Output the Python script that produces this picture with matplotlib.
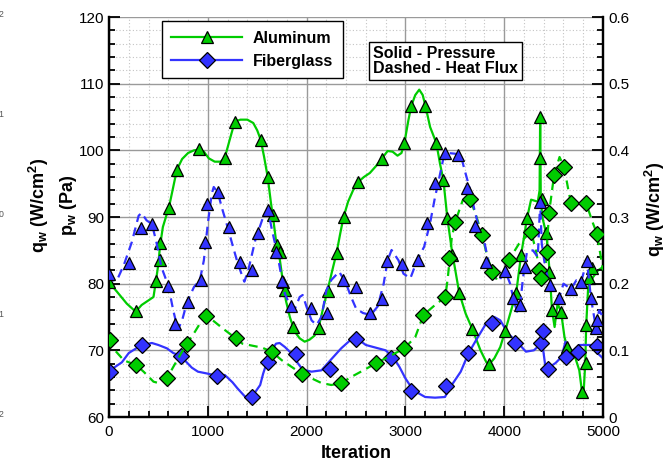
import matplotlib

matplotlib.use("Agg")
import matplotlib.pyplot as plt  # noqa: E402
from matplotlib.lines import Line2D  # noqa: E402
from matplotlib.ticker import MultipleLocator, LogLocator, NullLocator  # noqa: E402

plt.rcParams["font.family"] = ["Liberation Sans", "DejaVu Sans"]
plt.rcParams["mathtext.default"] = "regular"

GREEN = "#00cc00"
BLUE = "#3333ff"

# Aluminum wall pressure (Pa), solid green line + triangle markers
al_p_iter = [0, 80, 180, 270, 330, 400, 450, 475, 500, 515, 545, 580, 606, 650, 687, 740,
             800, 860, 909, 960, 1010, 1070, 1130, 1172, 1220, 1273, 1330, 1400, 1460, 1500,
             1535, 1570, 1606, 1640, 1657, 1690, 1730, 1760, 1790, 1830, 1880, 1930, 1980,
             2030, 2080, 2121, 2170, 2212, 2260, 2303, 2340, 2374, 2420, 2470, 2525, 2580,
             2640, 2700, 2758, 2820, 2870, 2920, 2960, 2990, 3030, 3060, 3100, 3140, 3175,
             3202, 3250, 3313, 3350, 3384, 3424, 3470, 3545, 3610, 3677, 3760, 3820, 3848,
             3900, 3960, 4010, 4070, 4121, 4171, 4232, 4272, 4340, 4358, 4364, 4370, 4385,
             4424, 4440, 4460, 4484, 4510, 4540, 4575, 4610, 4636, 4700, 4760, 4787, 4805,
             4820, 4830, 4850, 4900, 4950, 5000]
al_p_val = [80.2, 78.8, 77.0, 75.8, 76.8, 77.5, 78.0, 80.4, 83.0, 85.5, 88.5, 90.2, 91.4,
            94.5, 97.1, 98.7, 99.6, 100.0, 100.1, 99.8, 98.8, 98.3, 98.3, 98.9, 101.5, 104.3,
            104.6, 104.6, 104.1, 103.0, 101.6, 99.0, 96.0, 92.0, 90.3, 86.5, 83.5, 80.3, 77.5,
            75.0, 72.8, 71.8, 71.3, 71.6, 72.2, 73.4, 76.5, 79.0, 82.0, 84.6, 87.5, 90.0, 92.3,
            94.0, 95.3, 96.0, 96.6, 97.6, 98.7, 99.9, 99.8, 99.2, 99.6, 101.1, 104.5, 106.7,
            108.3, 109.1, 108.3, 106.7, 103.5, 101.1, 98.0, 95.6, 89.9, 85.0, 78.6, 75.5, 73.2,
            70.0, 68.2, 67.9, 68.8, 70.5, 72.9, 76.0, 78.6, 84.3, 89.9, 92.6, 92.3, 94.0, 105.0,
            93.0, 90.0, 87.6, 85.4, 81.7, 76.0, 73.5, 77.0, 75.8, 72.0, 70.5, 69.8, 67.0, 63.8,
            64.0, 68.0, 73.8, 79.5, 81.0, 82.0, 82.5]
al_p_mk_iter = [0, 273, 475, 515, 515, 606, 687, 909, 1172, 1273, 1535, 1606, 1657, 1697,
                1727, 1757, 1778, 1858, 2121, 2212, 2303, 2374, 2525, 2758, 2990, 3060, 3202,
                3313, 3384, 3424, 3475, 3545, 3677, 3848, 4010, 4121, 4171, 4232, 4364, 4364,
                4380, 4424, 4455, 4484, 4575, 4636, 4787, 4830, 4830, 4860, 4890]
al_p_mk_val = [80.3, 75.9, 80.4, 83.5, 86.1, 91.4, 97.1, 100.2, 98.9, 104.3, 101.6, 96.0,
               90.3, 85.8, 84.8, 80.3, 79.1, 73.5, 73.4, 78.9, 84.6, 90.0, 95.3, 98.7, 101.1,
               106.7, 106.7, 101.1, 95.6, 89.9, 84.3, 78.6, 73.2, 68.0, 72.9, 78.6, 84.3, 89.9,
               105.0, 98.9, 92.7, 87.6, 81.7, 76.1, 75.8, 70.5, 63.8, 68.1, 73.8, 80.9, 82.3]

# Aluminum heat flux (W/cm^2), dashed green line + diamond markers
al_q_iter = [0, 60, 150, 273, 350, 450, 500, 586, 650, 720, 788, 870, 940, 980, 1050, 1150,
             1283, 1350, 1450, 1550, 1646, 1750, 1850, 1949, 2050, 2150, 2250, 2353, 2450,
             2550, 2707, 2850, 2990, 3100, 3182, 3300, 3404, 3430, 3470, 3505, 3580, 3656,
             3720, 3777, 3830, 3878, 3930, 4000, 4050, 4150, 4272, 4320, 4373, 4420, 4454,
             4505, 4560, 4606, 4650, 4676, 4750, 4828, 4900, 4939, 5000]
al_q_val = [0.118, 0.100, 0.085, 0.078, 0.068, 0.053, 0.051, 0.058, 0.075, 0.093, 0.110,
            0.128, 0.145, 0.152, 0.145, 0.133, 0.118, 0.110, 0.107, 0.104, 0.098, 0.085,
            0.075, 0.065, 0.058, 0.051, 0.048, 0.051, 0.060, 0.068, 0.081, 0.092, 0.103,
            0.120, 0.153, 0.168, 0.180, 0.210, 0.270, 0.293, 0.325, 0.327, 0.300, 0.273,
            0.240, 0.218, 0.205, 0.220, 0.236, 0.260, 0.278, 0.250, 0.209, 0.230, 0.306,
            0.363, 0.390, 0.375, 0.340, 0.321, 0.320, 0.321, 0.290, 0.275, 0.220]
al_q_mk_iter = [10, 273, 586, 788, 980, 1283, 1646, 1949, 2353, 2707, 2990, 3182, 3404, 3444,
                3505, 3656, 3777, 3878, 4050, 4272, 4353, 4373, 4434, 4454, 4505, 4606, 4676,
                4828, 4939]
al_q_mk_val = [0.1155, 0.078, 0.0585, 0.1095, 0.1515, 0.1185, 0.0975, 0.0645, 0.051, 0.081,
               0.1035, 0.153, 0.180, 0.2385, 0.2925, 0.327, 0.273, 0.2175, 0.2355, 0.2775,
               0.2205, 0.2085, 0.2475, 0.306, 0.363, 0.375, 0.321, 0.321, 0.2745]

# Fiberglass wall pressure (Pa), solid blue line + diamond markers
fg_p_iter = [0, 60, 130, 200, 330, 434, 500, 586, 650, 720, 780, 838, 900, 1000, 1090, 1172,
             1250, 1300, 1380, 1450, 1530, 1560, 1600, 1640, 1690, 1727, 1780, 1850, 1900,
             1960, 2050, 2150, 2240, 2350, 2440, 2515, 2600, 2700, 2800, 2880, 2940, 3000,
             3080, 3200, 3300, 3400, 3460, 3560, 3640, 3730, 3820, 3900, 3960, 4040, 4140,
             4220, 4300, 4360, 4380, 4395, 4420, 4460, 4520, 4580, 4620, 4660, 4700, 4760,
             4830, 4880, 4950, 5000]
fg_p_val = [66.8, 67.5, 68.2, 69.6, 70.8, 71.1, 70.8, 70.3, 69.6, 69.2, 68.3, 67.4, 66.8,
            66.5, 66.2, 66.3, 65.2, 64.3, 63.0, 63.1, 64.8, 66.5, 68.3, 69.8, 71.0, 71.1, 70.5,
            69.5, 68.3, 67.1, 66.8, 67.0, 68.5, 70.3, 71.5, 71.7, 70.8, 70.4, 70.0, 68.9, 67.5,
            65.8, 64.0, 63.0, 62.9, 63.0, 64.6, 66.8, 69.6, 71.9, 74.1, 75.0, 74.5, 72.5, 71.1,
            69.8, 70.0, 70.8, 73.3, 70.0, 67.2, 67.5, 68.1, 69.0, 71.3, 69.8, 70.0, 70.8, 70.8,
            70.8, 69.5, 68.8]
fg_p_mk_iter = [10, 334, 727, 1090, 1444, 1606, 1889, 2232, 2495, 2858, 3060, 3414, 3636,
                3878, 4111, 4373, 4394, 4444, 4626, 4747, 4939]
fg_p_mk_val = [66.8, 70.8, 69.2, 66.2, 63.0, 68.3, 69.5, 67.2, 71.7, 68.9, 63.9, 64.7, 69.6,
               74.1, 71.1, 71.1, 72.9, 67.2, 69.0, 69.75, 70.7]

# Fiberglass heat flux (W/cm^2), dashed blue line + triangle markers
fg_q_iter = [0, 40, 80, 150, 230, 300, 330, 380, 434, 480, 530, 600, 650, 697, 740, 790,
             860, 920, 960, 1000, 1040, 1060, 1100, 1150, 1200, 1250, 1300, 1340, 1370, 1410,
             1480, 1560, 1610, 1650, 1700, 1740, 1780, 1840, 1880, 1930, 1960, 2000, 2050,
             2100, 2150, 2200, 2250, 2330, 2400, 2450, 2500, 2570, 2650, 2720, 2780, 2820,
             2860, 2930, 2980, 3050, 3120, 3190, 3250, 3300, 3330, 3380, 3430, 3500, 3560,
             3600, 3650, 3700, 3740, 3800, 3870, 3950, 4010, 4060, 4091, 4130, 4161, 4190,
             4230, 4290, 4340, 4364, 4380, 4420, 4464, 4520, 4555, 4600, 4676, 4730, 4777,
             4838, 4878, 4929, 4960, 5000]
fg_q_val = [0.2145, 0.205, 0.205, 0.228, 0.262, 0.302, 0.306, 0.295, 0.2895, 0.262, 0.225,
            0.197, 0.160, 0.131, 0.145, 0.1725, 0.195, 0.2055, 0.235, 0.290, 0.335, 0.345,
            0.337, 0.310, 0.285, 0.258, 0.232, 0.215, 0.203, 0.2205, 0.265, 0.300, 0.310,
            0.280, 0.2475, 0.215, 0.185, 0.165, 0.162, 0.180, 0.183, 0.165, 0.145, 0.138,
            0.150, 0.190, 0.2055, 0.218, 0.200, 0.180, 0.163, 0.156, 0.153, 0.166, 0.200,
            0.235, 0.2505, 0.235, 0.215, 0.208, 0.2355, 0.2555, 0.291, 0.330, 0.350, 0.385,
            0.396, 0.395, 0.393, 0.370, 0.3435, 0.310, 0.2865, 0.262, 0.212, 0.205, 0.219,
            0.200, 0.1785, 0.158, 0.168, 0.2085, 0.2475, 0.250, 0.240, 0.3225, 0.260, 0.220,
            0.198, 0.190, 0.1785, 0.200, 0.192, 0.205, 0.2025, 0.234, 0.1785, 0.1335, 0.160,
            0.150]
fg_q_mk_iter = [0, 200, 323, 434, 596, 667, 798, 929, 970, 990, 1101, 1212, 1322, 1444,
                1505, 1606, 1687, 1747, 1838, 2040, 2202, 2364, 2495, 2646, 2758, 2818, 2970,
                3131, 3222, 3303, 3404, 3535, 3626, 3707, 3818, 4010, 4091, 4161, 4212, 4364,
                4464, 4555, 4676, 4777, 4838, 4878, 4929, 4939]
fg_q_mk_val = [0.2145, 0.231, 0.2835, 0.2895, 0.1965, 0.1395, 0.1725, 0.2055, 0.2625, 0.3195,
               0.3375, 0.285, 0.2325, 0.2205, 0.276, 0.3105, 0.2475, 0.204, 0.1665, 0.1635,
               0.156, 0.2055, 0.195, 0.156, 0.177, 0.234, 0.2295, 0.2355, 0.291, 0.351, 0.396,
               0.393, 0.3435, 0.2865, 0.2325, 0.219, 0.1785, 0.168, 0.225, 0.3225, 0.198,
               0.1785, 0.192, 0.2025, 0.234, 0.1785, 0.1335, 0.1455]

fig = plt.figure(figsize=(6.68, 4.62), dpi=100)
ax = fig.add_axes([0.1632, 0.0974, 0.7395, 0.8658])
ax2 = ax.twinx()

dash = (4, 2.6)
mk = dict(linestyle="none", markeredgecolor="black", markeredgewidth=0.9)

ax.plot(al_p_iter, al_p_val, color=GREEN, lw=1.6, zorder=3)
ax.plot(fg_p_iter, fg_p_val, color=BLUE, lw=1.6, zorder=3)
ax2.plot(al_q_iter, al_q_val, color=GREEN, lw=1.6, dashes=dash, zorder=3)
ax2.plot(fg_q_iter, fg_q_val, color=BLUE, lw=1.6, dashes=dash, zorder=3)

ax.plot(al_p_mk_iter, al_p_mk_val, marker="^", ms=8.5, color=GREEN, zorder=4, **mk)
ax.plot(fg_p_mk_iter, fg_p_mk_val, marker="D", ms=7.8, color=BLUE, zorder=4, **mk)
ax2.plot(al_q_mk_iter, al_q_mk_val, marker="D", ms=7.8, color=GREEN, zorder=4, **mk)
ax2.plot(fg_q_mk_iter, fg_q_mk_val, marker="^", ms=8.5, color=BLUE, zorder=4, **mk)

ax.set_xlim(0, 5000)
ax.set_ylim(60, 120)
ax2.set_ylim(0, 0.6)

ax.xaxis.set_major_locator(MultipleLocator(1000))
ax.xaxis.set_minor_locator(MultipleLocator(200))
ax.yaxis.set_major_locator(MultipleLocator(10))
ax.yaxis.set_minor_locator(MultipleLocator(2))
ax2.yaxis.set_major_locator(MultipleLocator(0.1))
ax2.yaxis.set_minor_locator(MultipleLocator(0.02))

ax.grid(True, which="major", color="#9a9a9a", lw=1.0)
ax.grid(True, which="minor", color="#c4c4c4", lw=0.8, linestyle=(0, (1, 2)))
ax.set_axisbelow(True)

for a in (ax, ax2):
    a.spines["top"].set_visible(False)
    for s in ("left", "right", "bottom"):
        a.spines[s].set_linewidth(1.6)
ax.tick_params(which="both", direction="in", top=False, right=False, labelsize=11,
               width=1.3)
ax.tick_params(axis="x", pad=6)
ax.tick_params(which="major", length=8)
ax.tick_params(which="minor", length=4)
ax2.tick_params(which="both", direction="in", labelsize=11, width=1.3, pad=4)
ax2.tick_params(which="major", length=8)
ax2.tick_params(which="minor", length=4)
ax2.set_yticks([0, 0.1, 0.2, 0.3, 0.4, 0.5, 0.6])
ax2.set_yticklabels(["0", "0.1", "0.2", "0.3", "0.4", "0.5", "0.6"])

ax.set_xlabel("Iteration", fontsize=13, fontweight="bold", labelpad=4)
ax.set_ylabel("p$_w$ (Pa)", fontsize=13, fontweight="bold")
ax.yaxis.set_label_coords(-0.061, 0.53)
ax2.set_ylabel("q$_w$ (W/cm$^2$)", fontsize=13, fontweight="bold")
ax2.yaxis.set_label_coords(1.081, 0.52)

# leftover log axis, mostly clipped at the left edge
ax3 = ax.twinx()
ax3.set_yscale("log")
ax3.set_ylim(1e-2, 1e2)
ax3.yaxis.set_major_locator(LogLocator(base=10, numticks=10))
ax3.yaxis.set_minor_locator(NullLocator())
ax3.yaxis.tick_left()
ax3.yaxis.set_label_position("left")
ax3.spines["left"].set_position(("outward", 74))
for s in ax3.spines.values():
    s.set_visible(False)
ax3.tick_params(axis="y", length=0, pad=1, labelsize=9, labelcolor="#555555")
ax3.set_ylabel("q$_w$ (W/cm$^2$)", fontsize=13, fontweight="bold")
ax3.yaxis.set_label_coords(-0.118, 0.53)

handles = [
    Line2D([], [], color=GREEN, lw=1.6, marker="^", ms=8.5, markeredgecolor="black",
           markeredgewidth=0.9),
    Line2D([], [], color=BLUE, lw=1.6, marker="D", ms=7.8, markeredgecolor="black",
           markeredgewidth=0.9),
]
leg = ax3.legend(handles, ["Aluminum", "Fiberglass"], loc="upper left",
                 bbox_to_anchor=(0.107, 0.99), borderaxespad=0, fancybox=False,
                 framealpha=1, edgecolor="black", handlelength=4.4, handletextpad=0.7,
                 labelspacing=0.5, borderpad=0.6,
                 prop={"weight": "bold", "size": 11.5})
leg.get_frame().set_linewidth(1.0)

ax3.text(0.534, 0.927, "Solid - Pressure\nDashed - Heat Flux", transform=ax.transAxes,
         ha="left", va="top", fontsize=11.5, fontweight="bold", linespacing=1.0,
         bbox=dict(boxstyle="square,pad=0.25", facecolor="white", edgecolor="black", lw=1.0))

# no gridline along the open top edge
fig.canvas.draw()
ax.yaxis.get_major_ticks()[-1].gridline.set_visible(False)

fig.savefig("out.png", dpi=100)
